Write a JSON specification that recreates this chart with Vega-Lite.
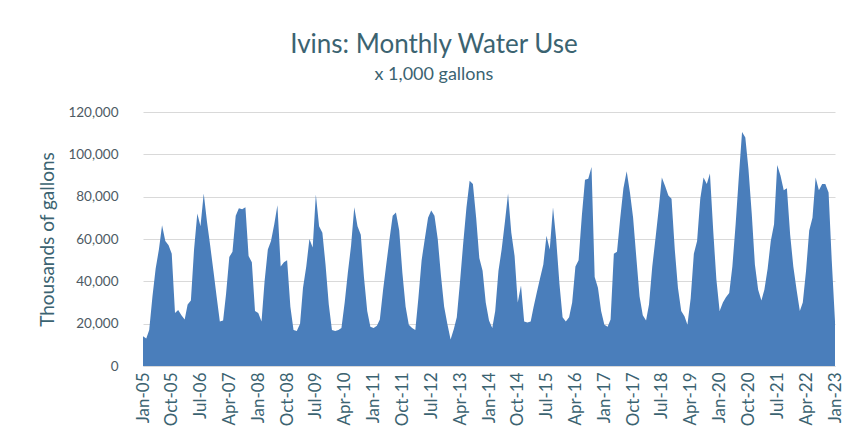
{
  "$schema": "https://vega.github.io/schema/vega-lite/v6.json",
  "autosize": {"type": "none"},
  "width": 692,
  "height": 254,
  "padding": {"left": 143, "top": 112, "right": 17, "bottom": 76},
  "background": "#ffffff",
  "title": {
    "text": "Ivins: Monthly Water Use",
    "subtitle": "x 1,000 gallons",
    "frame": "bounds",
    "anchor": "middle",
    "dx": -7,
    "font": "Lato",
    "fontSize": 26,
    "fontWeight": "normal",
    "color": "#3B6371",
    "subtitleFont": "Lato",
    "subtitleFontSize": 18,
    "subtitleColor": "#3B6371",
    "subtitlePadding": 8,
    "offset": 21
  },
  "data": {
    "format": {"parse": {"d": "date:'%Y-%m'"}},
    "values": [
      {"d":"2005-01","v":14000},{"d":"2005-02","v":13000},{"d":"2005-03","v":17000},{"d":"2005-04","v":33000},{"d":"2005-05","v":46000},{"d":"2005-06","v":55000},{"d":"2005-07","v":66500},{"d":"2005-08","v":59000},{"d":"2005-09","v":57000},{"d":"2005-10","v":53000},{"d":"2005-11","v":25000},{"d":"2005-12","v":26500},
      {"d":"2006-01","v":24000},{"d":"2006-02","v":22000},{"d":"2006-03","v":29000},{"d":"2006-04","v":31000},{"d":"2006-05","v":55000},{"d":"2006-06","v":72000},{"d":"2006-07","v":66000},{"d":"2006-08","v":81500},{"d":"2006-09","v":68000},{"d":"2006-10","v":57000},{"d":"2006-11","v":45000},{"d":"2006-12","v":33000},
      {"d":"2007-01","v":21000},{"d":"2007-02","v":21500},{"d":"2007-03","v":34000},{"d":"2007-04","v":51500},{"d":"2007-05","v":54000},{"d":"2007-06","v":71000},{"d":"2007-07","v":74500},{"d":"2007-08","v":74000},{"d":"2007-09","v":75000},{"d":"2007-10","v":52000},{"d":"2007-11","v":49000},{"d":"2007-12","v":26000},
      {"d":"2008-01","v":25000},{"d":"2008-02","v":21000},{"d":"2008-03","v":40000},{"d":"2008-04","v":55000},{"d":"2008-05","v":59000},{"d":"2008-06","v":67000},{"d":"2008-07","v":76000},{"d":"2008-08","v":47000},{"d":"2008-09","v":49000},{"d":"2008-10","v":50000},{"d":"2008-11","v":28000},{"d":"2008-12","v":17000},
      {"d":"2009-01","v":16500},{"d":"2009-02","v":20000},{"d":"2009-03","v":37000},{"d":"2009-04","v":47000},{"d":"2009-05","v":60000},{"d":"2009-06","v":56000},{"d":"2009-07","v":81000},{"d":"2009-08","v":66000},{"d":"2009-09","v":63000},{"d":"2009-10","v":48000},{"d":"2009-11","v":29000},{"d":"2009-12","v":17000},
      {"d":"2010-01","v":16500},{"d":"2010-02","v":17000},{"d":"2010-03","v":18000},{"d":"2010-04","v":30000},{"d":"2010-05","v":44000},{"d":"2010-06","v":57000},{"d":"2010-07","v":75000},{"d":"2010-08","v":66000},{"d":"2010-09","v":62000},{"d":"2010-10","v":42000},{"d":"2010-11","v":26000},{"d":"2010-12","v":18500},
      {"d":"2011-01","v":18000},{"d":"2011-02","v":19000},{"d":"2011-03","v":22000},{"d":"2011-04","v":36000},{"d":"2011-05","v":48000},{"d":"2011-06","v":60000},{"d":"2011-07","v":71000},{"d":"2011-08","v":72500},{"d":"2011-09","v":64000},{"d":"2011-10","v":44000},{"d":"2011-11","v":28000},{"d":"2011-12","v":19500},
      {"d":"2012-01","v":18000},{"d":"2012-02","v":17000},{"d":"2012-03","v":32000},{"d":"2012-04","v":50000},{"d":"2012-05","v":60000},{"d":"2012-06","v":70000},{"d":"2012-07","v":73500},{"d":"2012-08","v":71000},{"d":"2012-09","v":60000},{"d":"2012-10","v":43000},{"d":"2012-11","v":28000},{"d":"2012-12","v":20000},
      {"d":"2013-01","v":12500},{"d":"2013-02","v":17500},{"d":"2013-03","v":23000},{"d":"2013-04","v":40000},{"d":"2013-05","v":58000},{"d":"2013-06","v":75000},{"d":"2013-07","v":87500},{"d":"2013-08","v":86000},{"d":"2013-09","v":70000},{"d":"2013-10","v":51000},{"d":"2013-11","v":45000},{"d":"2013-12","v":30000},
      {"d":"2014-01","v":21500},{"d":"2014-02","v":18000},{"d":"2014-03","v":26000},{"d":"2014-04","v":45000},{"d":"2014-05","v":55000},{"d":"2014-06","v":68000},{"d":"2014-07","v":81500},{"d":"2014-08","v":63000},{"d":"2014-09","v":52000},{"d":"2014-10","v":30000},{"d":"2014-11","v":38000},{"d":"2014-12","v":21000},
      {"d":"2015-01","v":20500},{"d":"2015-02","v":21000},{"d":"2015-03","v":28000},{"d":"2015-04","v":35000},{"d":"2015-05","v":41500},{"d":"2015-06","v":48000},{"d":"2015-07","v":61500},{"d":"2015-08","v":55000},{"d":"2015-09","v":75000},{"d":"2015-10","v":60000},{"d":"2015-11","v":39000},{"d":"2015-12","v":23000},
      {"d":"2016-01","v":21000},{"d":"2016-02","v":23000},{"d":"2016-03","v":30000},{"d":"2016-04","v":47000},{"d":"2016-05","v":50000},{"d":"2016-06","v":71000},{"d":"2016-07","v":88000},{"d":"2016-08","v":88500},{"d":"2016-09","v":94000},{"d":"2016-10","v":42000},{"d":"2016-11","v":37000},{"d":"2016-12","v":26000},
      {"d":"2017-01","v":19500},{"d":"2017-02","v":18500},{"d":"2017-03","v":22000},{"d":"2017-04","v":53000},{"d":"2017-05","v":54000},{"d":"2017-06","v":70000},{"d":"2017-07","v":84000},{"d":"2017-08","v":92000},{"d":"2017-09","v":82000},{"d":"2017-10","v":70000},{"d":"2017-11","v":51000},{"d":"2017-12","v":33000},
      {"d":"2018-01","v":24000},{"d":"2018-02","v":21500},{"d":"2018-03","v":29000},{"d":"2018-04","v":47000},{"d":"2018-05","v":60000},{"d":"2018-06","v":74000},{"d":"2018-07","v":89000},{"d":"2018-08","v":85000},{"d":"2018-09","v":80500},{"d":"2018-10","v":79000},{"d":"2018-11","v":55000},{"d":"2018-12","v":37000},
      {"d":"2019-01","v":26000},{"d":"2019-02","v":23500},{"d":"2019-03","v":19500},{"d":"2019-04","v":32000},{"d":"2019-05","v":53000},{"d":"2019-06","v":59000},{"d":"2019-07","v":79000},{"d":"2019-08","v":89000},{"d":"2019-09","v":86000},{"d":"2019-10","v":91000},{"d":"2019-11","v":64000},{"d":"2019-12","v":41000},
      {"d":"2020-01","v":26000},{"d":"2020-02","v":30000},{"d":"2020-03","v":32500},{"d":"2020-04","v":34500},{"d":"2020-05","v":47000},{"d":"2020-06","v":67000},{"d":"2020-07","v":89000},{"d":"2020-08","v":110500},{"d":"2020-09","v":108000},{"d":"2020-10","v":93000},{"d":"2020-11","v":72000},{"d":"2020-12","v":48000},
      {"d":"2021-01","v":36000},{"d":"2021-02","v":31000},{"d":"2021-03","v":36000},{"d":"2021-04","v":46000},{"d":"2021-05","v":59000},{"d":"2021-06","v":67000},{"d":"2021-07","v":95000},{"d":"2021-08","v":90000},{"d":"2021-09","v":83000},{"d":"2021-10","v":84000},{"d":"2021-11","v":62000},{"d":"2021-12","v":47000},
      {"d":"2022-01","v":36000},{"d":"2022-02","v":26000},{"d":"2022-03","v":30000},{"d":"2022-04","v":45000},{"d":"2022-05","v":64000},{"d":"2022-06","v":70000},{"d":"2022-07","v":89000},{"d":"2022-08","v":83000},{"d":"2022-09","v":86000},{"d":"2022-10","v":86000},{"d":"2022-11","v":82000},{"d":"2022-12","v":50000},
      {"d":"2023-01","v":21000}
    ]
  },
  "mark": {"type": "area", "color": "#4A7EBB", "interpolate": "linear", "opacity": 1},
  "encoding": {
    "x": {
      "field": "d",
      "type": "temporal",
      "scale": {"domain": [{"year": 2005, "month": 1, "date": 1}, {"year": 2023, "month": 1, "date": 1}]},
      "axis": {
        "title": null,
        "format": "%b-%y",
        "values": [
          {"year":2005,"month":1},{"year":2005,"month":10},{"year":2006,"month":7},{"year":2007,"month":4},{"year":2008,"month":1},
          {"year":2008,"month":10},{"year":2009,"month":7},{"year":2010,"month":4},{"year":2011,"month":1},{"year":2011,"month":10},
          {"year":2012,"month":7},{"year":2013,"month":4},{"year":2014,"month":1},{"year":2014,"month":10},{"year":2015,"month":7},
          {"year":2016,"month":4},{"year":2017,"month":1},{"year":2017,"month":10},{"year":2018,"month":7},{"year":2019,"month":4},
          {"year":2020,"month":1},{"year":2020,"month":10},{"year":2021,"month":7},{"year":2022,"month":4},{"year":2023,"month":1}
        ],
        "labelAngle": -90,
        "labelAlign": "right",
        "labelBaseline": "middle",
        "labelFont": "Lato",
        "labelFontSize": 17,
        "labelColor": "#3B6371",
        "labelPadding": 6,
        "labelOverlap": false,
        "labelFlush": false,
        "ticks": false,
        "grid": false,
        "domain": true,
        "domainColor": "#D9D9D9"
      }
    },
    "y": {
      "field": "v",
      "type": "quantitative",
      "scale": {"domain": [0, 120000], "nice": false},
      "axis": {
        "title": "Thousands of gallons",
        "titleFont": "Lato",
        "titleFontSize": 19,
        "titleFontWeight": "normal",
        "titleColor": "#3B6371",
        "titlePadding": 10,
        "values": [0, 20000, 40000, 60000, 80000, 100000, 120000],
        "format": ",.0f",
        "labelFont": "Lato",
        "labelFontSize": 13.5,
        "labelColor": "#4D5A63",
        "labelPadding": 25,
        "ticks": false,
        "domain": false,
        "grid": true,
        "gridColor": "#D9D9D9",
        "gridWidth": 1
      }
    }
  },
  "config": {"view": {"stroke": null}}
}
